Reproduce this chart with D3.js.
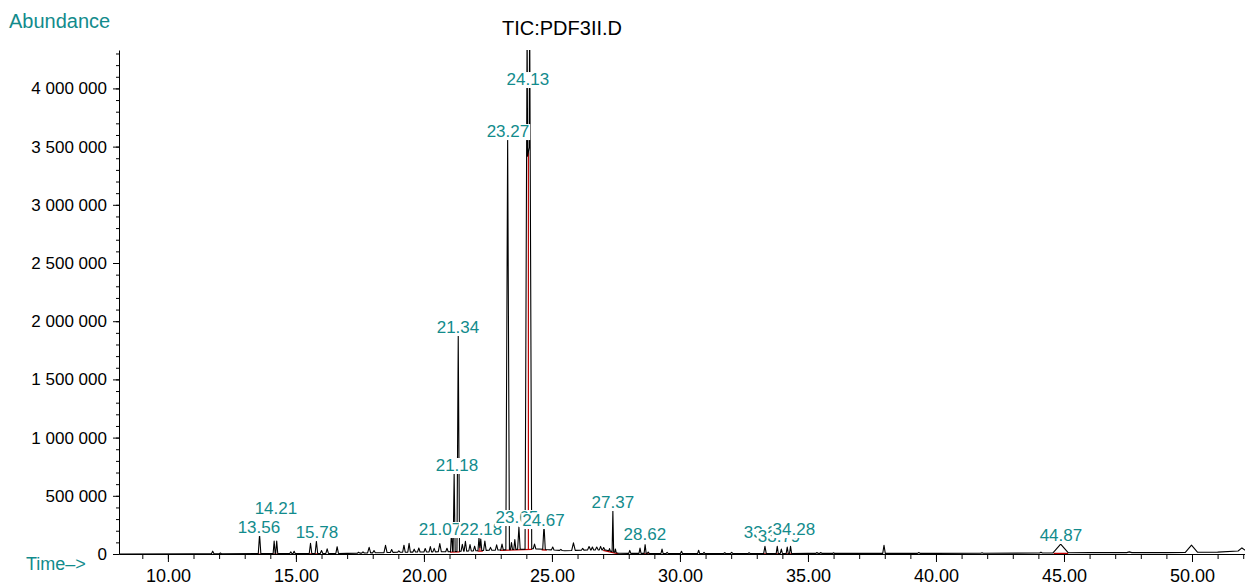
<!DOCTYPE html>
<html>
<head>
<meta charset="utf-8">
<script src="https://cdn.jsdelivr.net/npm/d3@7"></script>
<style>
    body { margin: 0; background: #fff; }
    svg { display: block; font-family: "Liberation Sans", Arial, Helvetica, sans-serif; }
</style>
</head>
<body>
<svg id="chart" width="1245" height="585"></svg>
<script>
// Peaks: retention time (min), height above baseline, base width (min).
const peakTimes = [11.75, 12.05, 13.58, 14.15, 14.25, 14.80, 14.93, 15.57, 15.80, 16.00, 16.22, 16.61,
    17.45, 17.62, 17.86, 18.05, 18.50, 18.74, 19.02, 19.22, 19.42, 19.62, 19.80, 20.05, 20.25, 20.40,
    20.62, 20.90, 21.08, 21.18, 21.34, 21.50, 21.62, 21.80, 21.98, 22.15, 22.22, 22.38, 22.60, 22.84,
    23.05, 23.27, 23.42, 23.55, 23.71, 24.03, 24.13, 24.32, 24.69, 25.03, 25.35, 25.84, 26.20, 26.45,
    26.58, 26.75, 26.90, 27.02, 27.25, 27.38, 27.48, 28.04, 28.44, 28.64, 28.76, 29.30, 29.50, 30.06,
    30.73, 30.94, 31.75, 32.02, 32.70, 33.32, 33.80, 33.96, 34.19, 34.32, 35.35, 35.50, 36.00, 37.97,
    39.33, 41.80, 44.10, 44.87, 47.55, 49.98, 51.95];
const peakHeights = [22000, 6000, 165000, 108000, 108000, 14000, 20000, 88000, 105000, 25000, 40000, 58000,
    8000, 10000, 48000, 20000, 62000, 25000, 12000, 60000, 75000, 25000, 35000, 30000, 45000, 30000,
    70000, 30000, 190000, 670000, 1850000, 60000, 85000, 55000, 40000, 110000, 100000, 80000, 25000, 45000,
    50000, 3540000, 60000, 85000, 190000, 4500000, 4600000, 40000, 210000, 25000, 10000, 65000, 15000, 30000,
    25000, 25000, 30000, 20000, 20000, 350000, 30000, 25000, 45000, 75000, 12000, 38000, 10000, 20000,
    28000, 10000, 8000, 10000, 6000, 62000, 62000, 38000, 55000, 62000, 8000, 8000, 5000, 70000,
    8000, 4000, 8000, 75000, 6000, 62000, 25000];
const peakWidths = [0.10, 0.08, 0.10, 0.08, 0.08, 0.08, 0.08, 0.10, 0.10, 0.10, 0.10, 0.10,
    0.10, 0.10, 0.12, 0.10, 0.12, 0.10, 0.10, 0.10, 0.10, 0.10, 0.10, 0.10, 0.10, 0.10,
    0.12, 0.10, 0.08, 0.08, 0.10, 0.10, 0.10, 0.10, 0.10, 0.08, 0.08, 0.10, 0.10, 0.10,
    0.10, 0.14, 0.08, 0.08, 0.10, 0.16, 0.16, 0.10, 0.10, 0.10, 0.10, 0.14, 0.10, 0.12,
    0.10, 0.12, 0.10, 0.10, 0.06, 0.06, 0.06, 0.08, 0.08, 0.08, 0.08, 0.08, 0.08, 0.08,
    0.08, 0.08, 0.08, 0.08, 0.08, 0.10, 0.08, 0.08, 0.08, 0.08, 0.08, 0.08, 0.08, 0.10,
    0.10, 0.10, 0.10, 0.60, 0.20, 0.48, 0.30];

// Baseline drift under the peaks.
const baseTimes = [8.0, 11, 17, 19, 21, 23, 24.3, 25.5, 26.5, 27.1, 27.6, 30, 35, 40, 44, 46, 49, 51, 52.2];
const baseLevels = [0, 2000, 5000, 15000, 20000, 35000, 45000, 28000, 35000, 35000, 6000, 4000, 5000, 5000, 8000, 12000, 12000, 16000, 30000];

// Integration events (red).
const intStarts = [13.46, 14.05, 15.47, 21.02, 22.10, 22.97, 24.60, 27.00, 28.50, 33.12, 33.70, 34.14, 44.60];
const intEnds =   [13.79, 14.43, 15.94, 21.40, 22.30, 24.22, 24.80, 27.60, 28.83, 33.52, 33.90, 34.43, 45.16];
const dropTimes = [21.13, 21.26, 22.185, 23.48, 23.63, 24.08];

// Peak labels: text, centre time, baseline level.
const labelTexts =  ["13.56", "14.21", "15.78", "21.07", "22.18", "21.18", "21.34", "23.27", "24.13", "23.65", "24.67", "27.37", "28.62", "33.32", "33.79", "34.28", "44.87"];
const labelTimes =  [13.555, 14.22, 15.82, 20.625, 22.23, 21.29, 21.33, 23.28, 24.06, 23.63, 24.67, 27.38, 28.63, 33.32, 33.87, 34.45, 44.88];
const labelLevels = [180000, 344000, 137000, 163000, 163000, 713000, 1899000, 3582000, 4029000, 266000, 240000, 395000, 120000, 137000, 103000, 163000, 112000];

// Axis ticks.
const xMajorTicks = [10, 15, 20, 25, 30, 35, 40, 45, 50];
const xMinorTicks = d3.range(9, 53, 1);
const yMajorTicks = [0, 500000, 1000000, 1500000, 2000000, 2500000, 3000000, 3500000, 4000000];
const yMinorTicks = d3.range(0, 4300001, 100000);

const tealColor = "#128b8c";
const redColor = "#c00000";

const svg = d3.select("#chart");

// Scales.
let x = d3.scaleLinear().domain([8.09, 52.07]).range([119, 1245]);
let y = d3.scaleLinear().domain([0, 4330000]).range([554, 50]);
let baseline = d3.scaleLinear().domain(baseTimes).range(baseLevels);

// Abundance at a given time: baseline plus triangular peaks.
function signal(t) {
    let v = baseline(t);
    peakTimes.forEach((p, i) => {
        const half = peakWidths[i] / 2;
        const d = Math.abs(t - p);
        if (d < half) v += peakHeights[i] * (1 - d / half);
    });
    return v;
}

// Break points of the piecewise-linear trace.
let times = baseTimes.slice();
peakTimes.forEach((p, i) => {
    times.push(p - peakWidths[i] / 2, p, p + peakWidths[i] / 2);
});
times = Array.from(new Set(times.map(t => +t.toFixed(4)))).sort((a, b) => a - b);
const trace = times.map(t => [t, signal(t)]);

svg.append("defs").append("clipPath").attr("id", "plot-clip")
    .append("rect").attr("x", 119).attr("y", 50).attr("width", 1126).attr("height", 506);

const plot = svg.append("g").attr("clip-path", "url(#plot-clip)");

// Integration baselines and drop lines, under the trace.
plot.selectAll(".int-line")
    .data(intStarts.map((s, i) => [s, intEnds[i]]))
    .enter().append("line")
    .attr("x1", d => x(d[0])).attr("y1", d => y(baseline(d[0])) + 0.5)
    .attr("x2", d => x(d[1])).attr("y2", d => y(baseline(d[1])) + 0.5)
    .attr("stroke", redColor).attr("stroke-width", 1.3);

plot.selectAll(".drop-line")
    .data(dropTimes)
    .enter().append("line")
    .attr("x1", d => x(d)).attr("x2", d => x(d))
    .attr("y1", d => y(baseline(d))).attr("y2", d => y(signal(d)))
    .attr("stroke", redColor).attr("stroke-width", 1.2);

// Trace line.
plot.append("path")
    .datum(trace)
    .attr("fill", "none")
    .attr("stroke", "#000")
    .attr("stroke-width", 1.1)
    .attr("stroke-linejoin", "round")
    .attr("d", d3.line().x(d => x(d[0])).y(d => y(d[1])));

// X axis: minor then major ticks.
svg.append("g")
    .attr("transform", "translate(0,554)")
    .call(d3.axisBottom(x).tickValues(xMinorTicks).tickSize(5).tickFormat("").tickSizeOuter(0))
    .call(g => g.select(".domain").remove());

const xAxis = svg.append("g")
    .attr("transform", "translate(0,554)")
    .call(d3.axisBottom(x).tickValues(xMajorTicks).tickSize(8).tickPadding(7)
        .tickFormat(d3.format(".2f")).tickSizeOuter(0));
xAxis.selectAll("text").attr("font-size", 18).attr("fill", "#000").attr("font-family", null);
xAxis.select(".domain").attr("stroke", "#000");

// Y axis.
svg.append("g")
    .attr("transform", "translate(119,0)")
    .call(d3.axisLeft(y).tickValues(yMinorTicks).tickSize(3).tickFormat("").tickSizeOuter(0))
    .call(g => g.select(".domain").remove());

const yAxis = svg.append("g")
    .attr("transform", "translate(119,0)")
    .call(d3.axisLeft(y).tickValues(yMajorTicks).tickSize(6).tickPadding(6)
        .tickFormat(d => d3.format(",")(d).replace(/,/g, " ")).tickSizeOuter(0));
yAxis.selectAll("text").attr("font-size", 17).attr("fill", "#000").attr("font-family", null);

// Peak labels with white boxes.
const labels = svg.append("g");
labelTexts.forEach((txt, i) => {
    const g = labels.append("g");
    const rect = g.append("rect").attr("fill", "#fff");
    const t = g.append("text")
        .attr("x", x(labelTimes[i]))
        .attr("y", y(labelLevels[i]))
        .attr("text-anchor", "middle")
        .attr("font-size", 17)
        .attr("fill", tealColor)
        .text(txt);
    const bb = t.node().getBBox();
    rect.attr("x", bb.x - 1).attr("y", bb.y + 2).attr("width", bb.width + 2).attr("height", bb.height - 3);
});

// Titles.
svg.append("text")
    .attr("x", 562).attr("y", 35)
    .attr("text-anchor", "middle")
    .attr("font-size", 20)
    .attr("fill", "#000")
    .text("TIC:PDF3II.D");

svg.append("text")
    .attr("x", 9).attr("y", 28)
    .attr("font-size", 20)
    .attr("fill", tealColor)
    .text("Abundance");

svg.append("text")
    .attr("x", 26).attr("y", 570)
    .attr("font-size", 18)
    .attr("fill", tealColor)
    .text("Time\u2013>");
</script>
</body>
</html>
